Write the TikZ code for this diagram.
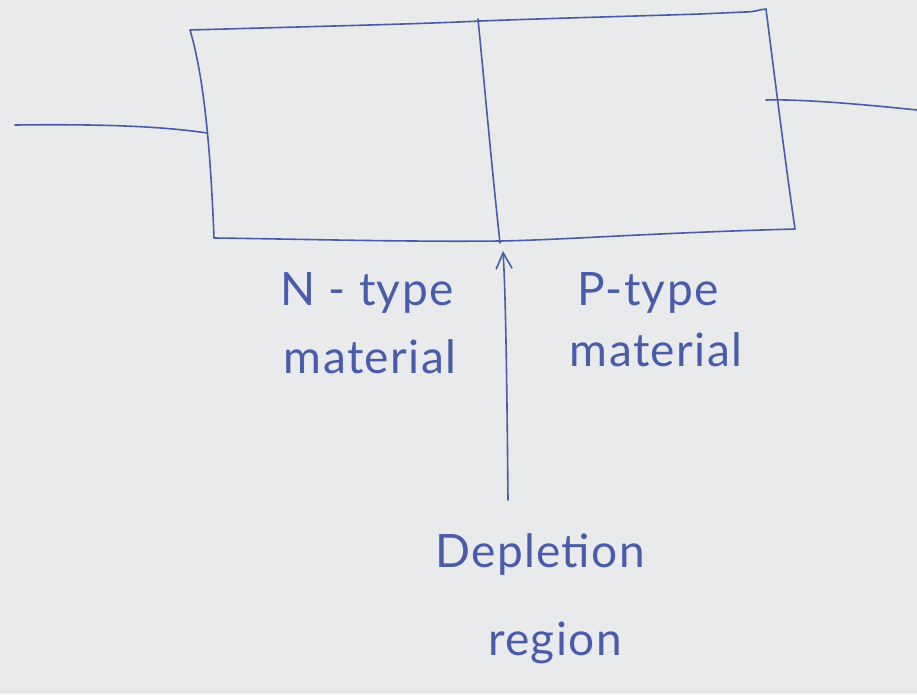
\documentclass[tikz,border=0pt]{standalone}
\usepackage{fontspec}
\setmainfont{Lato}[LetterSpace=3]
\usetikzlibrary{arrows.meta}
\definecolor{ink}{RGB}{72,92,170}
\definecolor{board}{RGB}{233,234,236}
\tikzset{
  pen/.style={draw=ink, line width=1.6pt, line cap=round, line join=round},
  hand/.style={text=ink, font=\fontsize{46}{50}\selectfont, anchor=base, inner sep=0pt},
}
\begin{document}
\begin{tikzpicture}[x=1pt,y=-1pt]
  % board
  \fill[board] (0,0) rectangle (917,694);
  \useasboundingbox (0,0) rectangle (917,694);

  % junction block (two halves)
  \draw[pen] (190,30) .. controls (330,26) and (420,24) .. (480,21)
             .. controls (560,18) and (640,16) .. (700,14)
             -- (745,12) .. controls (755,12) and (762,9) .. (766,9)
             .. controls (775,80) and (785,160) .. (795,229)
             .. controls (650,233) and (560,240) .. (500,241)
             .. controls (400,242) and (300,239) .. (214,238)
             .. controls (211,160) and (205,80) .. (190,30);
  % junction boundary
  \draw[pen] (478,19) .. controls (484,80) and (492,170) .. (500,243);

  % terminals
  \coordinate (leadL) at (15,125);
  \coordinate (pinL) at (207,133);
  \coordinate (pinR) at (766,100);
  \coordinate (leadR) at (917,110);
  \draw[pen] (leadL) .. controls (100,124) and (160,126) .. (pinL);
  \draw[pen] (pinR) .. controls (800,99) and (860,104) .. (leadR);

  % labels
  \node[hand] (ntype) at (367,305) {N - type};
  \node[hand] (nmat)  at (370,373) {material};
  \node[hand] (ptype) at (648,305) {P-type};
  \node[hand] (pmat)  at (656,366) {material};
  \node[hand] (depl)  at (540,567) {Depletion};
  \node[hand] (regn)  at (555,655) {region};

  % pointer to the depletion region
  \coordinate (tail) at (508,500);
  \coordinate (tip) at (503,251);
  \draw[pen, -{Straight Barb[length=16pt,width=16pt]}] (tail) .. controls (507,400) and (506,300) .. (tip);
\end{tikzpicture}
\end{document}
